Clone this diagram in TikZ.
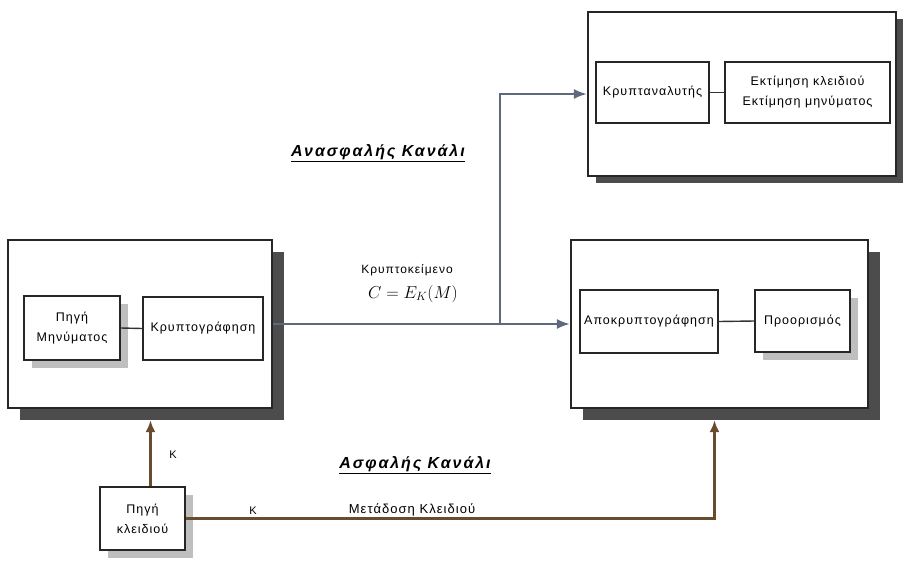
\documentclass[tikz,border=0pt]{standalone}
\usepackage{fontspec}
\setmainfont{Liberation Sans}[LetterSpace=8]
\newfontfamily\chanfont{Liberation Sans}[LetterSpace=12]
\usetikzlibrary{shadows,arrows.meta}
\begin{document}
\begin{tikzpicture}[x=1pt,y=-1pt,
  font=\fontsize{12.5}{20}\selectfont,
  bigbox/.style={draw=black!85, line width=2.2pt, fill=white,
    drop shadow={shadow xshift=12pt, shadow yshift=-12pt, fill=black!70, opacity=1}},
  topbox/.style={draw=black!85, line width=2.2pt, fill=white,
    drop shadow={shadow xshift=8pt, shadow yshift=-7pt, fill=black!70, opacity=1}},
  inbox/.style={draw=black!85, line width=1.8pt, fill=white, align=center, inner sep=2pt},
  inshadow/.style={inbox, drop shadow={shadow xshift=8pt, shadow yshift=-8pt, fill=black!25, opacity=1}},
  link/.style={draw=black!80, line width=1.4pt},
  arr/.style={draw={rgb,255:red,95;green,105;blue,125}, line width=2pt, -{Latex[length=13pt,width=10pt]}},
  karr/.style={draw={rgb,255:red,105;green,75;blue,45}, line width=2.4pt, -{Latex[length=12pt,width=10pt]}},
  chan/.style={font=\chanfont\fontsize{16}{18}\selectfont\bfseries\itshape}
]
\useasboundingbox (0,0) rectangle (903,563);
% big boxes
\node[bigbox, minimum width=264pt, minimum height=168pt] (L) at (140,324) {};
\node[bigbox, minimum width=297pt, minimum height=168pt] (R) at (719.5,324) {};
\node[topbox, minimum width=308pt, minimum height=164pt] (T) at (742,94) {};
% inner boxes left
\node[inshadow, minimum width=96pt, minimum height=64pt] (PM) at (72,328) {Πηγή\\Μηνύματος};
\node[inbox, minimum width=120pt, minimum height=63pt] (KR) at (203,328.5) {Κρυπτογράφηση};
\draw[link] (PM.east) -- (KR.west);
% inner boxes right
\node[inbox, minimum width=138pt, minimum height=63pt] (AP) at (649,321.5) {Αποκρυπτογράφηση};
\node[inshadow, minimum width=95pt, minimum height=62pt] (PR) at (802.5,321) {Προορισμός};
\draw[link] (AP.east) -- (PR.west);
% inner boxes top
\node[inbox, minimum width=113pt, minimum height=61pt] (KA) at (652.5,92.5) {Κρυπταναλυτής};
\node[inbox, minimum width=165pt, minimum height=61pt] (EK) at (807.5,92.5) {Εκτίμηση κλειδιού\\Εκτίμηση μηνύματος};
\draw[link] (KA.east) -- (EK.west);
% key source
\node[inshadow, minimum width=85pt, minimum height=63pt] (KS) at (142.5,518.5) {Πηγή\\κλειδιού};
% connectors
\coordinate (br) at (500,324);
\coordinate (Lsh) at ([yshift=-11pt]L.south);
\coordinate (Rsh) at ([xshift=-5pt,yshift=-11pt]R.south);
\coordinate (kup) at ([xshift=8pt]KS.north);
\draw[arr] (L.east) -- (R.west);
\draw[arr] (br) |- (T.west);
\draw[karr] (kup) -- (kup |- Lsh);
\draw[karr] (KS.east) -| (Rsh);
% labels
\node[chan] (l1) at (378,153) {\underline{Ανασφαλής Κανάλι}};
\node[chan] (l2) at (415,465) {\underline{Ασφαλής Κανάλι}};
\node[font=\fontsize{12}{14}\selectfont] (ct) at (407,270) {Κρυπτοκείμενο};
\node[font=\fontsize{18}{20}\selectfont] (ce) at (413,294) {$C = E_K(M)$};
\node[font=\fontsize{11}{12}\selectfont] (k1) at (173,455) {K};
\node[font=\fontsize{11}{12}\selectfont] (k2) at (253,511) {K};
\node[font=\fontsize{13}{14}\selectfont] (mk) at (412,510) {Μετάδοση Κλειδιού};
\end{tikzpicture}
\end{document}
